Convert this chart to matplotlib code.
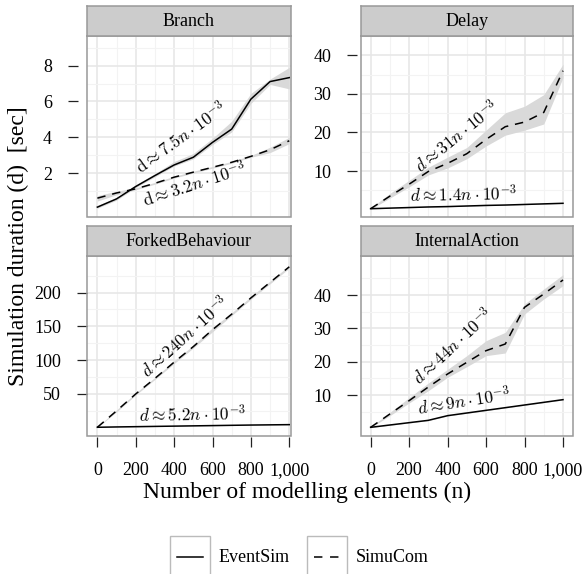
import matplotlib
matplotlib.use("Agg")
import matplotlib.pyplot as plt
from matplotlib.patches import Rectangle
from matplotlib.lines import Line2D
import numpy as np

plt.rcParams['font.family'] = ['Liberation Serif', 'DejaVu Serif']
plt.rcParams['mathtext.fontset'] = 'cm'

# ---------------- data ----------------
n_elements = [0, 100, 200, 300, 400, 500, 600, 700, 800, 900, 1000]
x_tick_values = [0, 200, 400, 600, 800, 1000]
x_tick_labels = ["0", "200", "400", "600", "800", "1,000"]

panels = ["Branch", "Delay", "ForkedBehaviour", "InternalAction"]

branch_event = [0.11, 0.57, 1.26, 1.87, 2.46, 2.89, 3.72, 4.46, 6.13, 7.11, 7.33]
branch_event_lo = [0.05, 0.50, 1.20, 1.80, 2.40, 2.80, 3.60, 4.30, 5.90, 6.95, 6.70]
branch_event_hi = [0.20, 0.65, 1.35, 1.98, 2.65, 3.10, 3.95, 4.90, 6.45, 7.25, 7.90]
branch_simu = [0.61, 0.90, 1.13, 1.44, 1.78, 2.06, 2.33, 2.61, 2.94, 3.31, 3.81]
branch_simu_lo = [0.45, 0.80, 1.08, 1.39, 1.73, 2.01, 2.28, 2.56, 2.89, 3.15, 3.65]
branch_simu_hi = [0.75, 1.00, 1.18, 1.49, 1.83, 2.11, 2.38, 2.66, 2.99, 3.45, 4.00]

delay_event = [0.25, 0.40, 0.55, 0.70, 0.80, 0.95, 1.10, 1.20, 1.35, 1.50, 1.65]
delay_event_lo = [0.20, 0.35, 0.50, 0.65, 0.75, 0.90, 1.05, 1.15, 1.30, 1.45, 1.60]
delay_event_hi = [0.30, 0.45, 0.60, 0.75, 0.85, 1.00, 1.15, 1.25, 1.40, 1.55, 1.70]
delay_simu = [0.25, 3.5, 6.6, 9.9, 12.0, 14.5, 18.2, 21.5, 22.7, 25.2, 36.0]
delay_simu_lo = [0.1, 3.0, 5.9, 9.0, 10.8, 13.2, 16.5, 19.3, 20.6, 22.2, 34.2]
delay_simu_hi = [0.4, 4.2, 7.6, 11.0, 13.6, 16.1, 20.6, 25.1, 26.8, 29.8, 37.7]

forked_event = [0.7, 1.2, 1.6, 2.0, 2.4, 2.8, 3.2, 3.6, 4.0, 4.3, 4.6]
forked_event_lo = [0.5, 1.0, 1.4, 1.8, 2.2, 2.6, 3.0, 3.4, 3.8, 4.1, 4.4]
forked_event_hi = [0.9, 1.4, 1.8, 2.2, 2.6, 3.0, 3.4, 3.8, 4.2, 4.5, 4.8]
forked_simu = [0.7, 25, 50, 73, 97, 120, 145, 168, 192, 215, 238]
forked_simu_lo = [0.4, 23.5, 48.5, 71.5, 95, 118, 142, 166, 190, 213, 236]
forked_simu_hi = [1.0, 26.5, 51.5, 74.5, 99, 122, 148, 170, 194, 217, 240]

internal_event = [0.3, 1.0, 1.7, 2.4, 3.8, 4.6, 5.4, 6.2, 7.0, 7.8, 8.6]
internal_event_lo = [0.2, 0.9, 1.6, 2.3, 3.7, 4.5, 5.3, 6.1, 6.9, 7.7, 8.5]
internal_event_hi = [0.4, 1.1, 1.8, 2.5, 3.9, 4.7, 5.5, 6.3, 7.1, 7.9, 8.7]
internal_simu = [0.3, 4.3, 8.3, 12.4, 16.3, 19.8, 23.3, 25.3, 36.3, 40.3, 44.5]
internal_simu_lo = [0.2, 3.8, 7.6, 11.3, 15.3, 18.5, 21.8, 22.6, 34.3, 38.8, 42.8]
internal_simu_hi = [0.4, 4.8, 9.2, 13.6, 17.7, 21.8, 26.3, 28.8, 37.3, 41.8, 46.1]

y_ticks = {
    "Branch": [2, 4, 6, 8],
    "Delay": [10, 20, 30, 40],
    "ForkedBehaviour": [50, 100, 150, 200],
    "InternalAction": [10, 20, 30, 40],
}
y_limits = {
    "Branch": (-0.44, 9.65),
    "Delay": (-1.9, 43.0),
    "ForkedBehaviour": (-12.2, 254),
    "InternalAction": (-2.3, 51.7),
}

annotations = {
    "Branch": [(r"$\mathrm{d} \approx 7.5n \cdot 10^{-3}$", 436, 3.95, 36),
               (r"$\mathrm{d} \approx 3.2n \cdot 10^{-3}$", 509, 1.33, 18)],
    "Delay": [(r"$d \approx 31n \cdot 10^{-3}$", 449, 18.9, 39),
              (r"$d \approx 1.4n \cdot 10^{-3}$", 481, 3.6, 1)],
    "ForkedBehaviour": [(r"$d \approx 240n \cdot 10^{-3}$", 457, 133, 42),
                        (r"$d \approx 5.2n \cdot 10^{-3}$", 494, 19, 1)],
    "InternalAction": [(r"$d \approx 44n \cdot 10^{-3}$", 429, 24.4, 43),
                       (r"$d \approx 9n \cdot 10^{-3}$", 486, 7.9, 9)],
}

series = {
    "Branch": (branch_event, branch_event_lo, branch_event_hi, branch_simu, branch_simu_lo, branch_simu_hi),
    "Delay": (delay_event, delay_event_lo, delay_event_hi, delay_simu, delay_simu_lo, delay_simu_hi),
    "ForkedBehaviour": (forked_event, forked_event_lo, forked_event_hi, forked_simu, forked_simu_lo, forked_simu_hi),
    "InternalAction": (internal_event, internal_event_lo, internal_event_hi, internal_simu, internal_simu_lo, internal_simu_hi),
}

# ---------------- layout ----------------
W, H = 584, 574
fig = plt.figure(figsize=(W / 100, H / 100), dpi=100)


def frac(l, t, r, b):
    return [l / W, 1 - b / H, (r - l) / W, (b - t) / H]


boxes = {
    "Branch": (87, 36, 291, 217),
    "Delay": (361, 36, 573, 217),
    "ForkedBehaviour": (87, 256, 291, 436),
    "InternalAction": (361, 256, 573, 436),
}
xlims = {
    "Branch": (-54, 1009),
    "Delay": (-50, 1052),
    "ForkedBehaviour": (-54, 1009),
    "InternalAction": (-50, 1052),
}
ytick_offset_px = {"Branch": 9, "Delay": 4, "ForkedBehaviour": 0, "InternalAction": 4}

border_col = "#999999"
strip_col = "#cccccc"
ribbon_col = "#d9d9d9"
FS = 13
dash = (0, (5.5, 4.5))

for name in panels:
    l, t, r, b = boxes[name]
    ax = fig.add_axes(frac(l, t, r, b))
    ax.set_facecolor("white")
    ev, evlo, evhi, sm, smlo, smhi = series[name]
    ax.fill_between(n_elements, evlo, evhi, color=ribbon_col, lw=0, zorder=2)
    ax.fill_between(n_elements, smlo, smhi, color=ribbon_col, lw=0, zorder=2)
    ax.plot(n_elements, ev, color="black", lw=1.1, zorder=3)
    ax.plot(n_elements, sm, color="black", lw=1.1, linestyle=dash, zorder=3)

    ax.set_xlim(*xlims[name])
    ax.set_ylim(*y_limits[name])
    ax.set_xticks(x_tick_values)
    ax.set_xticks([100, 300, 500, 700, 900], minor=True)
    yt = y_ticks[name]
    step = yt[1] - yt[0]
    ax.set_yticks(yt)
    ax.set_yticks([v + step / 2 for v in [yt[0] - step] + yt], minor=True)
    ax.grid(True, which="major", color="#e6e6e6", lw=1.1, zorder=0)
    ax.grid(True, which="minor", color="#f3f3f3", lw=0.8, zorder=0)
    ax.set_axisbelow(True)

    for sp in ax.spines.values():
        sp.set_visible(False)
    ax.spines["left"].set_visible(True)
    ax.spines["left"].set_color("none")
    ax.spines["left"].set_position(("outward", ytick_offset_px[name] * 0.72))
    ax.tick_params(axis="y", which="major", length=7.2, width=0.9, color="#222222",
                   pad=11.5, labelsize=FS)
    ax.tick_params(axis="y", which="minor", length=0)
    ax.set_yticklabels([str(v) for v in yt])

    if name in ("ForkedBehaviour", "InternalAction"):
        ax.spines["bottom"].set_visible(True)
        ax.spines["bottom"].set_color("none")
        ax.spines["bottom"].set_position(("outward", 0.8))
        ax.tick_params(axis="x", which="major", length=7.2, width=0.9, color="#222222",
                       pad=11, labelsize=FS)
        ax.set_xticklabels(x_tick_labels)
    else:
        ax.tick_params(axis="x", which="major", length=0, labelbottom=False)
    ax.tick_params(axis="x", which="minor", length=0)

    ax.add_patch(Rectangle((0, 0), 1, 1, transform=ax.transAxes, fill=False,
                           ec=border_col, lw=1.1, clip_on=False, zorder=5))

    for txt, xx, yy, rot in annotations[name]:
        ax.text(xx, yy, txt, fontsize=12.5, rotation=rot, ha="center", va="center",
                rotation_mode="anchor", zorder=6)

    # strip
    sax = fig.add_axes(frac(l, t - 30, r, t))
    sax.set_xticks([])
    sax.set_yticks([])
    sax.set_facecolor(strip_col)
    for sp in sax.spines.values():
        sp.set_color(border_col)
        sp.set_linewidth(1.1)
    sax.text(0.5, 0.47, name, transform=sax.transAxes, ha="center", va="center", fontsize=FS)

# axis titles
fig.text(307 / W, 1 - 492 / H, "Number of modelling elements (n)", ha="center", va="center",
         fontsize=17)
fig.text(18 / W, 1 - 246 / H, "Simulation duration (d)  [sec]", ha="center", va="center",
         rotation=90, fontsize=17)

# legend
def legend_key(x0, label, ls):
    fig.patches.append(Rectangle((x0 / W, 1 - 580 / H), 40 / W, 44 / H, transform=fig.transFigure,
                                 fill=False, ec="#bbbbbb", lw=1.0))
    fig.lines.append(Line2D([(x0 + 7) / W, (x0 + 33) / W], [1 - 557 / H, 1 - 557 / H],
                            transform=fig.transFigure, color="black", lw=1.1, linestyle=ls))
    fig.text((x0 + 49) / W, 1 - 557 / H, label, ha="left", va="center", fontsize=FS)


legend_key(170, "EventSim", "-")
legend_key(307, "SimuCom", (0, (5.5, 5.0)))

fig.savefig("out.png", dpi=100)
